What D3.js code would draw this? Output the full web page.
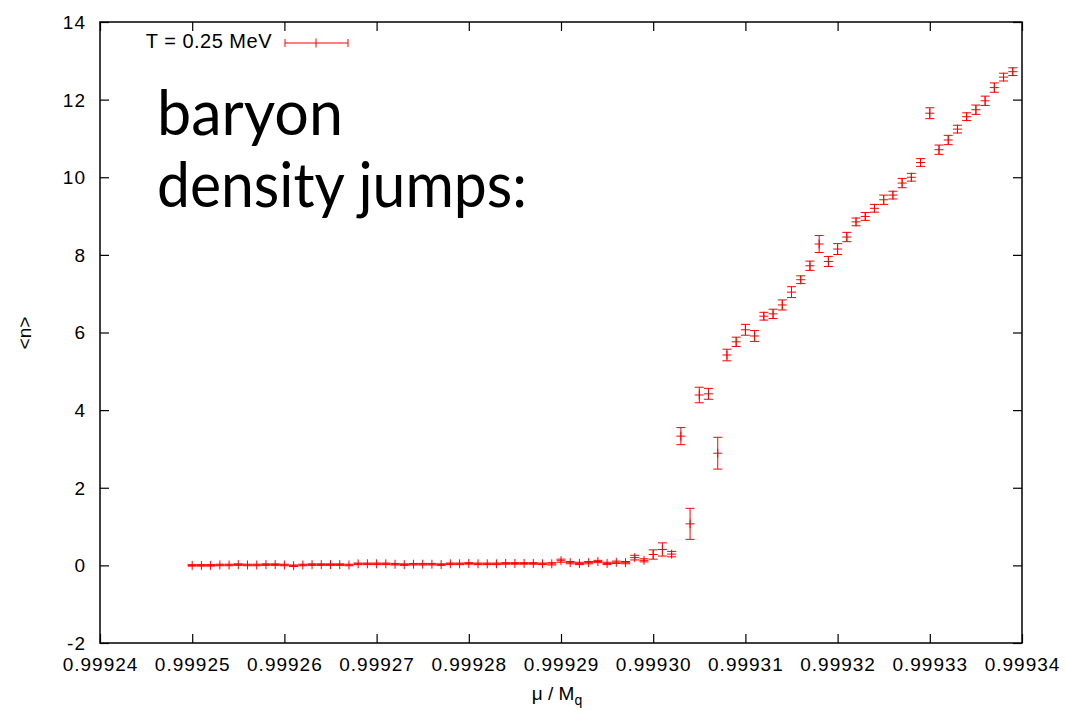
<!DOCTYPE html>
<html>
<head>
<meta charset="utf-8">
<script src="https://cdn.jsdelivr.net/npm/d3@7"></script>
<style>
	body { margin: 0; background: #fff; }
	svg { display: block; }
	.axis text { font-family: "Liberation Sans", Arial, sans-serif; font-size: 19px; letter-spacing: 1px; fill: #000; }
	.axis line { stroke: #000; stroke-width: 1.2; }
	.axis path { display: none; }
</style>
</head>
<body>
<svg class="chart" width="1066" height="711"></svg>
<script>
const muValues = [
	0.999250, 0.999251, 0.999252, 0.999253, 0.999254, 0.999255, 0.999256, 0.999257, 0.999258, 0.999259,
	0.999260, 0.999261, 0.999262, 0.999263, 0.999264, 0.999265, 0.999266, 0.999267, 0.999268, 0.999269,
	0.999270, 0.999271, 0.999272, 0.999273, 0.999274, 0.999275, 0.999276, 0.999277, 0.999278, 0.999279,
	0.999280, 0.999281, 0.999282, 0.999283, 0.999284, 0.999285, 0.999286, 0.999287, 0.999288, 0.999289,
	0.999290, 0.999291, 0.999292, 0.999293, 0.999294, 0.999295, 0.999296, 0.999297, 0.999298, 0.999299,
	0.999300, 0.999301, 0.999302, 0.999303, 0.999304, 0.999305, 0.999306, 0.999307, 0.999308, 0.999309,
	0.999310, 0.999311, 0.999312, 0.999313, 0.999314, 0.999315, 0.999316, 0.999317, 0.999318, 0.999319,
	0.999320, 0.999321, 0.999322, 0.999323, 0.999324, 0.999325, 0.999326, 0.999327, 0.999328, 0.999329,
	0.999330, 0.999331, 0.999332, 0.999333, 0.999334, 0.999335, 0.999336, 0.999337, 0.999338, 0.999339
];
const densityValues = [
	0.00, 0.00, 0.00, 0.01, 0.01, 0.02, 0.01, 0.01, 0.02, 0.02,
	0.01, -0.01, 0.01, 0.02, 0.02, 0.02, 0.02, 0.01, 0.04, 0.04,
	0.04, 0.04, 0.03, 0.02, 0.03, 0.03, 0.03, 0.02, 0.04, 0.04,
	0.05, 0.04, 0.04, 0.04, 0.05, 0.05, 0.05, 0.05, 0.04, 0.04,
	0.12, 0.07, 0.05, 0.07, 0.10, 0.05, 0.08, 0.07, 0.20, 0.13,
	0.28, 0.41, 0.29, 3.33, 1.07, 4.39, 4.42, 2.89, 5.42, 5.76,
	6.07, 5.91, 6.42, 6.48, 6.71, 7.04, 7.36, 7.72, 8.28, 7.83,
	8.15, 8.46, 8.85, 8.99, 9.20, 9.42, 9.54, 9.85, 10.00, 10.38,
	11.65, 10.71, 10.96, 11.24, 11.56, 11.74, 11.97, 12.31, 12.58, 12.72
];
const densityErrors = [
	0.02, 0.02, 0.02, 0.02, 0.02, 0.02, 0.02, 0.02, 0.02, 0.02,
	0.02, 0.02, 0.02, 0.02, 0.02, 0.02, 0.02, 0.02, 0.02, 0.02,
	0.02, 0.02, 0.02, 0.02, 0.02, 0.02, 0.02, 0.02, 0.02, 0.02,
	0.02, 0.02, 0.02, 0.02, 0.02, 0.02, 0.02, 0.02, 0.02, 0.03,
	0.04, 0.03, 0.03, 0.03, 0.03, 0.03, 0.03, 0.03, 0.06, 0.04,
	0.12, 0.17, 0.07, 0.22, 0.40, 0.20, 0.14, 0.41, 0.15, 0.12,
	0.14, 0.14, 0.10, 0.12, 0.13, 0.14, 0.10, 0.12, 0.22, 0.13,
	0.14, 0.12, 0.10, 0.10, 0.10, 0.12, 0.10, 0.12, 0.10, 0.10,
	0.14, 0.12, 0.12, 0.10, 0.10, 0.12, 0.12, 0.12, 0.10, 0.10
];
const xTickValues = [0.99924, 0.99925, 0.99926, 0.99927, 0.99928, 0.99929, 0.99930, 0.99931, 0.99932, 0.99933, 0.99934];
const yTickValues = [-2, 0, 2, 4, 6, 8, 10, 12, 14];
const legendLabel = 'T = 0.25 MeV';
const noteLines = ['baryon', 'density jumps:'];

function startApp() {
	const plot = {left: 100, right: 1022, top: 22, bottom: 643};
	const red = '#ff0000';
	const cap = 4.5;
	const cross = 4.5;
	const svg = d3.select('.chart');

	const xScale = d3.scaleLinear().domain([0.99924, 0.99934]).range([plot.left, plot.right]);
	const yScale = d3.scaleLinear().domain([-2, 14]).range([plot.bottom, plot.top]);

	const xAxis = d3.axisBottom(xScale).tickValues(xTickValues)
		.tickFormat(d3.format('.5f')).tickSize(-9).tickPadding(15);
	// gnuplot prints a plain hyphen, not the unicode minus d3 uses
	const yAxis = d3.axisLeft(yScale).tickValues(yTickValues)
		.tickFormat(v => String(v)).tickSize(-9).tickPadding(14);

	svg.append('g').classed('axis', true)
		.attr('transform', `translate(0, ${plot.bottom})`).call(xAxis);
	svg.append('g').classed('axis', true)
		.attr('transform', `translate(${plot.left}, 0)`).call(yAxis)
		.selectAll('text').attr('dy', '0.34em');
	// mirrored ticks on top and right
	svg.append('g').classed('axis', true)
		.attr('transform', `translate(0, ${plot.top})`)
		.call(d3.axisTop(xScale).tickValues(xTickValues).tickSize(-9).tickFormat(''));
	svg.append('g').classed('axis', true)
		.attr('transform', `translate(${plot.right}, 0)`)
		.call(d3.axisRight(yScale).tickValues(yTickValues).tickSize(-9).tickFormat(''));

	svg.append('rect')
		.attr('x', plot.left).attr('y', plot.top)
		.attr('width', plot.right - plot.left).attr('height', plot.bottom - plot.top)
		.attr('fill', 'none').attr('stroke', '#000').attr('stroke-width', 1.5);

	const points = muValues.map((mu, i) => ({mu, n: densityValues[i], err: densityErrors[i]}));
	const marks = svg.append('g')
		.attr('stroke', red).attr('stroke-width', 1).attr('fill', 'none')
		.selectAll('g').data(points).enter().append('g');

	marks.append('line')
		.attr('x1', d => xScale(d.mu)).attr('x2', d => xScale(d.mu))
		.attr('y1', d => yScale(d.n - d.err)).attr('y2', d => yScale(d.n + d.err));
	marks.append('line')
		.attr('x1', d => xScale(d.mu) - cap).attr('x2', d => xScale(d.mu) + cap)
		.attr('y1', d => yScale(d.n - d.err)).attr('y2', d => yScale(d.n - d.err));
	marks.append('line')
		.attr('x1', d => xScale(d.mu) - cap).attr('x2', d => xScale(d.mu) + cap)
		.attr('y1', d => yScale(d.n + d.err)).attr('y2', d => yScale(d.n + d.err));
	marks.append('path')
		.attr('d', d => {
			const x = xScale(d.mu), y = yScale(d.n);
			return `M${x - cross},${y}H${x + cross}M${x},${y - cross}V${y + cross}`;
		});

	// legend
	const legend = svg.append('g');
	legend.append('text')
		.attr('x', 272).attr('y', 48).attr('text-anchor', 'end')
		.style('font-family', '"Liberation Sans", Arial, sans-serif')
		.style('font-size', '20px').style('letter-spacing', '0.5px')
		.text(legendLabel);
	legend.append('path')
		.attr('stroke', red).attr('stroke-width', 1).attr('fill', 'none')
		.attr('d', 'M285,43H348M285,39V47M348,39V47M316,38.5V47.5');

	svg.append('text')
		.attr('x', plot.left - 76).attr('y', 333)
		.attr('transform', `rotate(-90, ${plot.left - 76}, 333)`)
		.attr('text-anchor', 'middle').attr('dy', '0.35em')
		.style('font-family', '"Liberation Sans", Arial, sans-serif').style('font-size', '19px')
		.text('<n>');

	const xLabel = svg.append('text')
		.attr('x', 557).attr('y', 700).attr('text-anchor', 'middle')
		.style('font-family', '"Liberation Sans", Arial, sans-serif').style('font-size', '19px');
	xLabel.append('tspan').text('μ / M');
	xLabel.append('tspan').attr('dy', 5).style('font-size', '14px').text('q');

	const note = svg.append('g')
		.style('font-family', 'Lato, "Open Sans", sans-serif').style('font-size', '62px');
	note.selectAll('text').data(noteLines).enter().append('text')
		.attr('x', 157).attr('y', (d, i) => 135 + i * 72)
		.attr('textLength', (d, i) => i === 0 ? 186 : 370)
		.attr('lengthAdjust', 'spacingAndGlyphs')
		.text(d => d);
}

window.onload = startApp;
</script>
</body>
</html>
